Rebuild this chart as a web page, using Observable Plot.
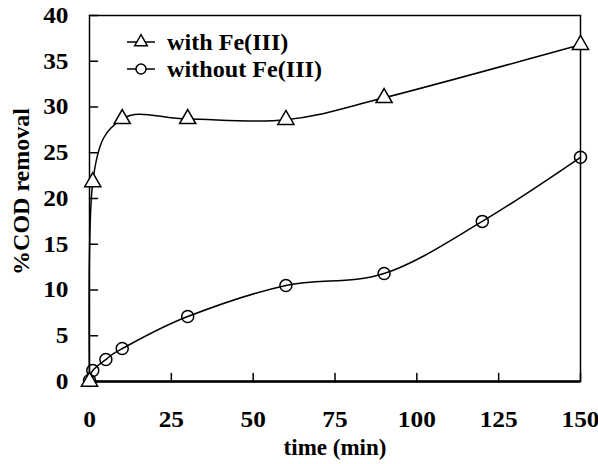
<!DOCTYPE html>
<html><head><meta charset="utf-8">
<script src="https://cdn.jsdelivr.net/npm/d3@7"></script>
<script src="https://cdn.jsdelivr.net/npm/@observablehq/plot@0.6"></script>
<style>
body{margin:0;background:#fff;}
</style></head><body><div id="chart"></div>
<script>
// ---- data ----
const seriesNames = ["with Fe(III)", "without Fe(III)"];
const timeWith = [0, 1, 10, 30, 60, 90, 150];
const codWith = [0, 21.8, 28.7, 28.7, 28.6, 31.0, 36.8];
const timeWithout = [0, 1, 5, 10, 30, 60, 90, 120, 150];
const codWithout = [0.1, 1.2, 2.4, 3.6, 7.1, 10.5, 11.8, 17.5, 24.5];
const xTicks = [0, 25, 50, 75, 100, 125, 150];
const yTicks = [0, 5, 10, 15, 20, 25, 30, 35, 40];
const xLabel = "time (min)";
const yLabel = "%COD removal";

const withData = timeWith.map((t, i) => ({t, v: codWith[i]}));
const withoutData = timeWithout.map((t, i) => ({t, v: codWithout[i]}));

const FONT = '"Liberation Serif", "Times New Roman", serif';
const tickShape = {draw(ctx, l) { ctx.moveTo(0, 0); ctx.lineTo(0, -l); }};

const plot = Plot.plot({
  width: 598, height: 464,
  marginLeft: 89, marginRight: 18, marginTop: 15, marginBottom: 83,
  style: {fontFamily: FONT, fontWeight: "bold", fontSize: "22px", color: "black", background: "white", overflow: "visible"},
  x: {domain: [0, 150]},
  y: {domain: [0, 40]},
  marks: [
    Plot.frame({stroke: "black", strokeWidth: 1.5}),
    Plot.ruleY([0], {stroke: "black", strokeWidth: 2.5}),
    Plot.vector(xTicks, {x: d => d, frameAnchor: "bottom", length: 8, rotate: 0, anchor: "start", shape: tickShape, stroke: "black", strokeWidth: 1.5}),
    Plot.vector(yTicks, {y: d => d, frameAnchor: "left", length: 8, rotate: 90, anchor: "start", shape: tickShape, stroke: "black", strokeWidth: 1.5}),
    Plot.axisX({ticks: xTicks, tickSize: 0, tickPadding: 29, label: null, fontSize: 23}),
    Plot.axisY({ticks: yTicks, tickSize: 0, tickPadding: 21, label: null, fontSize: 23}),
    Plot.text([xLabel], {frameAnchor: "bottom", dy: 73, lineAnchor: "bottom", fontSize: 23}),
    Plot.text([yLabel], {frameAnchor: "left", textAnchor: "middle", rotate: -90, dx: -68, dy: -7, fontSize: 24}),
    Plot.line(withData, {x: "t", y: "v", curve: "cardinal", stroke: "black", strokeWidth: 1.5}),
    Plot.line(withoutData, {x: "t", y: "v", curve: "cardinal", stroke: "black", strokeWidth: 1.5}),
    Plot.dot(withoutData, {x: "t", y: "v", symbol: "circle", r: 6, stroke: "black", fill: "white", fillOpacity: 0, strokeWidth: 1.5}),
    Plot.dot(withData, {x: "t", y: "v", symbol: "triangle", r: 6, stroke: "black", fill: "white", strokeWidth: 1.5})
  ]
});

// legend inside the plot, top-left
const svg = d3.select(plot);
const lg = svg.append("g").attr("font-family", FONT).attr("font-weight", "bold").attr("font-size", 23).attr("text-anchor", "start");
const rows = [
  {name: seriesNames[0], sym: d3.symbolTriangle2, size: Math.PI * 36},
  {name: seriesNames[1], sym: d3.symbolCircle, size: Math.PI * 25}
];
rows.forEach((r, i) => {
  const y = 42 + i * 27;
  lg.append("line").attr("x1", 127).attr("x2", 155).attr("y1", y).attr("y2", y).attr("stroke", "black").attr("stroke-width", 1.5);
  lg.append("path").attr("d", d3.symbol(r.sym, r.size)()).attr("transform", `translate(141,${y})`)
    .attr("fill", "white").attr("stroke", "black").attr("stroke-width", 1.5);
  lg.append("text").attr("x", 167).attr("y", y).attr("dy", "0.35em").attr("fill", "black")
    .attr("text-anchor", "start").attr("class", "legend-text").text(r.name);
});

document.getElementById("chart").appendChild(plot);

// horizontally widen tick labels and legend text to match the stretched reference
function stretch(sel, k) {
  svg.selectAll(sel).each(function() {
    const w = this.getComputedTextLength();
    if (w > 0) { this.setAttribute("textLength", (w * k).toFixed(1)); this.setAttribute("lengthAdjust", "spacingAndGlyphs"); }
  });
}
stretch('g[aria-label="x-axis tick label"] text', 1.1);
stretch('g[aria-label="y-axis tick label"] text', 1.1);
stretch('text.legend-text', 1.05);
</script>
</body></html>
